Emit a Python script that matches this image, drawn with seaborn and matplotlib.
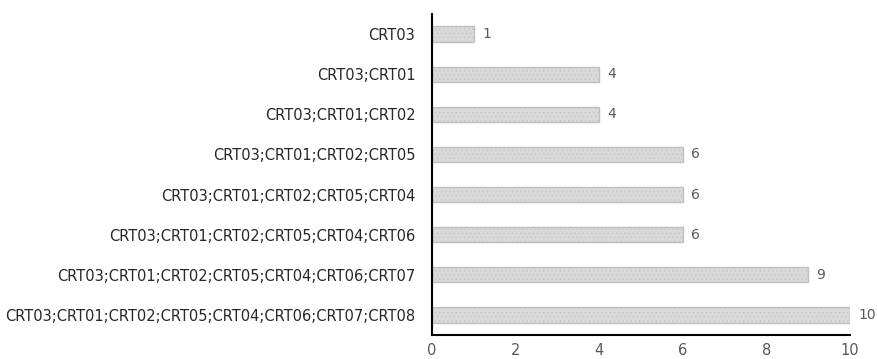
import matplotlib
matplotlib.use("Agg")
import matplotlib.pyplot as plt
import seaborn as sns
import pandas as pd

categories = [
    "CRT03",
    "CRT03;CRT01",
    "CRT03;CRT01;CRT02",
    "CRT03;CRT01;CRT02;CRT05",
    "CRT03;CRT01;CRT02;CRT05;CRT04",
    "CRT03;CRT01;CRT02;CRT05;CRT04;CRT06",
    "CRT03;CRT01;CRT02;CRT05;CRT04;CRT06;CRT07",
    "CRT03;CRT01;CRT02;CRT05;CRT04;CRT06;CRT07;CRT08",
]
values = [1, 4, 4, 6, 6, 6, 9, 10]
xticks = [0, 2, 4, 6, 8, 10]

sns.set_style("white")
plt.rcParams['font.family'] = ['DejaVu Sans']
plt.rcParams['hatch.color'] = '#c4c4c4'
plt.rcParams['hatch.linewidth'] = 0.3

df = pd.DataFrame({"combo": categories, "count": values})

fig = plt.figure(figsize=(8.77, 3.59), dpi=100)
ax = fig.add_axes([432/877, 1-335/359, (850-432)/877, (335-14)/359])

sns.barplot(data=df, y="combo", x="count", orient="h", ax=ax,
            color="#d9d9d9", width=0.38, edgecolor="#bfbfbf", linewidth=1.0,
            saturation=1)
for p in ax.patches:
    p.set_hatch("....")

for i, v in enumerate(values):
    ax.text(v + 0.2, i, str(v), va="center", ha="left", fontsize=10, color="#595959")

ax.set_xlim(0, 10)
ax.set_ylim(len(categories) - 0.5, -0.5)
ax.set_xticks(xticks)
ax.set_xticklabels([str(t) for t in xticks])
ax.set_xlabel("")
ax.set_ylabel("")
for s in ["top", "right"]:
    ax.spines[s].set_visible(False)
for s in ["left", "bottom"]:
    ax.spines[s].set_color("black")
    ax.spines[s].set_linewidth(1.5)
ax.tick_params(axis="x", direction="inout", length=9, width=1.5, color="black",
               labelsize=10.5, labelcolor="#595959", pad=1)
ax.tick_params(axis="y", length=0, labelsize=10.5, labelcolor="#262626", pad=12)

fig.savefig("out.png", dpi=100)
